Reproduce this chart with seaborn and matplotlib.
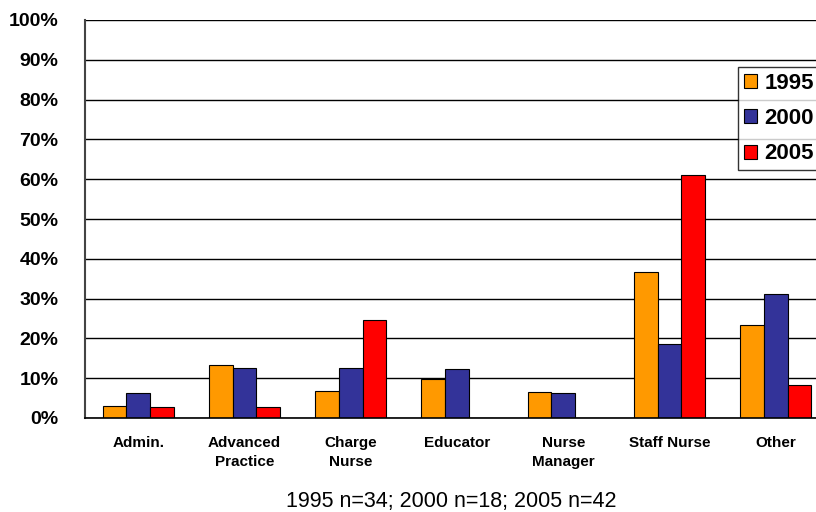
import matplotlib
matplotlib.use("Agg")
import matplotlib.pyplot as plt
import seaborn as sns
import pandas as pd
from matplotlib.ticker import FuncFormatter

categories = ["Admin.", "Advanced\nPractice", "Charge\nNurse", "Educator",
              "Nurse\nManager", "Staff Nurse", "Other"]
years = ["1995", "2000", "2005"]
v1995 = [3.0, 13.3, 6.7, 9.9, 6.6, 36.6, 23.4]
v2000 = [6.4, 12.6, 12.6, 12.4, 6.3, 18.7, 31.2]
v2005 = [2.7, 2.7, 24.7, 0.0, 0.0, 61.1, 8.2]
colors = ["#FF9900", "#333399", "#FF0000"]
yticks = list(range(0, 101, 10))
caption = "1995 n=34; 2000 n=18; 2005 n=42"

rows = []
for yr, vals in zip(years, [v1995, v2000, v2005]):
    for c, v in zip(categories, vals):
        rows.append({"category": c, "year": yr, "value": v})
df = pd.DataFrame(rows)

sns.set_theme(style="white")
plt.rcParams["font.family"] = ["Liberation Sans", "DejaVu Sans"]
plt.rcParams["text.color"] = "black"
plt.rcParams["xtick.color"] = "black"
plt.rcParams["ytick.color"] = "black"

fig = plt.figure(figsize=(8.16, 5.12), dpi=100)
ax = fig.add_axes([85/816, 94/512, 744/816, 398/512])

sns.barplot(data=df, x="category", y="value", hue="year", order=categories,
            hue_order=years, palette=colors, width=0.67, ax=ax,
            edgecolor="black", linewidth=0.8, saturation=1, legend=True)

ax.set_ylim(0, 100)
ax.set_xlim(-0.5, len(categories) - 0.5)
ax.set_yticks(yticks)
ax.yaxis.set_major_formatter(FuncFormatter(lambda v, p: f"{int(v)}%"))
ax.grid(axis="y", color="black", linewidth=1.0)
ax.set_axisbelow(True)
for s in ["top", "right"]:
    ax.spines[s].set_visible(False)
ax.spines["left"].set_color("#444444")
ax.spines["left"].set_linewidth(1.5)
ax.spines["bottom"].set_color("black")
ax.spines["bottom"].set_linewidth(1.2)

ax.tick_params(axis="y", which="major", direction="out", length=6, width=1,
               color="#444444", labelcolor="black", labelsize=14, pad=13)
for lab in ax.get_yticklabels():
    lab.set_fontweight("bold")

ax.set_xticks(range(len(categories)))
ax.set_xticklabels(categories, fontsize=11, fontweight="bold", linespacing=1.45,
                   color="black")
ax.tick_params(axis="x", which="major", length=0, pad=13)
ax.set_xticks([i - 0.5 for i in range(len(categories) + 1)], minor=True)
ax.tick_params(axis="x", which="minor", direction="out", length=6, width=1,
               color="black")
ax.set_xlabel("")
ax.set_ylabel("")

handles, labels = ax.get_legend_handles_labels()
ax.get_legend().remove()
leg = fig.legend(handles, labels, loc="upper left",
                 bbox_to_anchor=(738/816, 1 - 67/512),
                 bbox_transform=fig.transFigure,
                 prop={"size": 16, "weight": "bold"},
                 frameon=True, fancybox=False, edgecolor="black",
                 handlelength=0.6, handleheight=0.6, handletextpad=0.35,
                 labelspacing=0.65, borderpad=0.25, borderaxespad=0)
leg.get_frame().set_linewidth(1.0)

fig.text(451/816, 1 - 502/512, caption, ha="center", va="center",
         fontsize=15.5, color="black")

fig.savefig("out.png", dpi=100)
